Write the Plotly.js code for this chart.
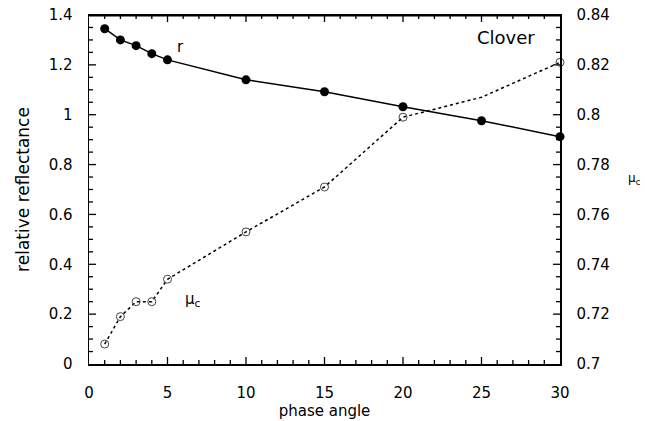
<!DOCTYPE html>
<html><head><meta charset="utf-8">
<script src="https://cdn.plot.ly/plotly-3.0.1.min.js"></script>
<style>html,body{margin:0;padding:0;background:#fff;}</style>
</head><body>
<div id="chart" style="width:645px;height:421px;"></div>
<script>
const phase = [1, 2, 3, 4, 5, 10, 15, 20, 25, 30];
const rValues = [1.345, 1.30, 1.277, 1.245, 1.22, 1.14, 1.092, 1.032, 0.976, 0.912];
const muPhase = [1, 2, 3, 4, 5, 10, 15, 20, 25, 30];
const muValues = [0.708, 0.719, 0.725, 0.725, 0.734, 0.753, 0.771, 0.799, 0.807, 0.821];
const muMarkerShown = [1, 1, 1, 1, 1, 1, 1, 1, 0, 1];

const xRange = [0, 30], xMajor = 5, xMinor = 1;
const yRange = [0, 1.4], yMajor = 0.2, yMinor = 0.05;
const y2Range = [0.7, 0.84], y2Major = 0.02, y2Minor = 0.005;

const W = 645, H = 421;
const M = {l: 89, r: 85, t: 15, b: 57};
const plotW = W - M.l - M.r, plotH = H - M.t - M.b;
const xPx = (xRange[1] - xRange[0]) / plotW;
const yPx = (yRange[1] - yRange[0]) / plotH;
const y2Px = (y2Range[1] - y2Range[0]) / plotH;
const MAJOR_LEN = 7, MINOR_LEN = 4, TICK_W = 1.3;

const font = 'DejaVu Sans, Verdana, sans-serif';

function tickSet(range, major, minor) {
  const n = Math.round((range[1] - range[0]) / minor);
  const per = Math.round(major / minor);
  const vals = [], lens = [];
  for (let i = 1; i < n; i++) {
    vals.push(range[0] + i * minor);
    lens.push(i % per === 0 ? MAJOR_LEN : MINOR_LEN);
  }
  return {vals, lens};
}
const xt = tickSet(xRange, xMajor, xMinor);
const yt = tickSet(yRange, yMajor, yMinor);
const y2t = tickSet(y2Range, y2Major, y2Minor);

function tickBars(o) {
  return Object.assign({type: 'bar', hoverinfo: 'skip', showlegend: false,
    marker: {color: '#000', line: {width: 0}}}, o);
}

const traces = [
  // bottom ticks
  tickBars({x: xt.vals, y: xt.lens.map(l => l * yPx), base: yRange[0], width: TICK_W * xPx}),
  // top ticks
  tickBars({x: xt.vals, y: xt.lens.map(l => l * yPx), base: xt.lens.map(l => yRange[1] - l * yPx), width: TICK_W * xPx}),
  // left ticks
  tickBars({orientation: 'h', y: yt.vals, x: yt.lens.map(l => l * xPx), base: xRange[0], width: TICK_W * yPx}),
  // right ticks
  tickBars({orientation: 'h', yaxis: 'y2', y: y2t.vals, x: y2t.lens.map(l => l * xPx),
            base: y2t.lens.map(l => xRange[1] - l * xPx), width: TICK_W * y2Px}),
  // top frame line
  tickBars({orientation: 'h', y: [yRange[1] - 0.75 * yPx], x: [xRange[1] - xRange[0]], base: xRange[0], width: 1.5 * yPx}),
  {x: phase, y: rValues, type: 'scatter', mode: 'lines+markers',
   line: {color: '#000', width: 1.5},
   marker: {color: '#000', size: 9, symbol: 'circle'},
   cliponaxis: false, showlegend: false},
  {x: muPhase, y: muValues, type: 'scatter', mode: 'lines+markers', yaxis: 'y2',
   line: {color: '#000', width: 1.5, dash: 'dot'},
   marker: {color: 'rgba(255,255,255,0)', size: 8, symbol: 'circle', opacity: muMarkerShown,
            line: {color: '#444', width: 1}},
   cliponaxis: false, showlegend: false}
];

const layout = {
  width: W, height: H,
  margin: M,
  barmode: 'overlay',
  paper_bgcolor: '#fff', plot_bgcolor: 'rgba(0,0,0,0)',
  font: {family: font, color: '#000'},
  xaxis: {
    showgrid: false, zeroline: false, showline: true, linecolor: '#000', linewidth: 1.5,
    mirror: true, ticks: '',
    tickfont: {family: font, size: 15, color: '#000'},
    range: xRange, dtick: xMajor, tick0: 0, tickmode: 'linear',
    ticklabelstandoff: 14,
    title: {text: 'phase angle', font: {family: font, size: 15}, standoff: 2}
  },
  yaxis: {
    showgrid: false, zeroline: false, showline: true, linecolor: '#000', linewidth: 1.5,
    ticks: '',
    tickfont: {family: font, size: 15, color: '#000'},
    range: yRange, dtick: yMajor, tick0: 0, tickmode: 'linear',
    ticklabelstandoff: 12,
    title: {text: 'relative reflectance', font: {family: font, size: 17}, standoff: 14}
  },
  yaxis2: {
    showgrid: false, zeroline: false, showline: true, linecolor: '#000', linewidth: 1.5,
    ticks: '',
    tickfont: {family: font, size: 15, color: '#000'},
    range: y2Range, dtick: y2Major, tick0: 0.7, tickmode: 'linear', overlaying: 'y', side: 'right',
    ticklabelstandoff: 12
  },
  annotations: [
    {xref: 'paper', yref: 'paper', x: 0.885, y: 0.935, text: 'Clover', showarrow: false,
     font: {family: font, size: 18}, xanchor: 'center', yanchor: 'middle'},
    {xref: 'x', yref: 'y', x: 5.8, y: 1.27, text: 'r', showarrow: false,
     font: {family: font, size: 15}},
    {xref: 'x', yref: 'y', x: 6.6, y: 0.26, text: 'μ<sub>c</sub>', showarrow: false,
     font: {family: font, size: 15}},
    {xref: 'paper', yref: 'paper', x: 1.14, y: 0.53, text: 'μ<sub>c</sub>', showarrow: false,
     font: {family: font, size: 12}, xanchor: 'left', yanchor: 'middle'}
  ]
};

Plotly.newPlot('chart', traces, layout, {displayModeBar: false, staticPlot: true});
</script>
</body></html>
